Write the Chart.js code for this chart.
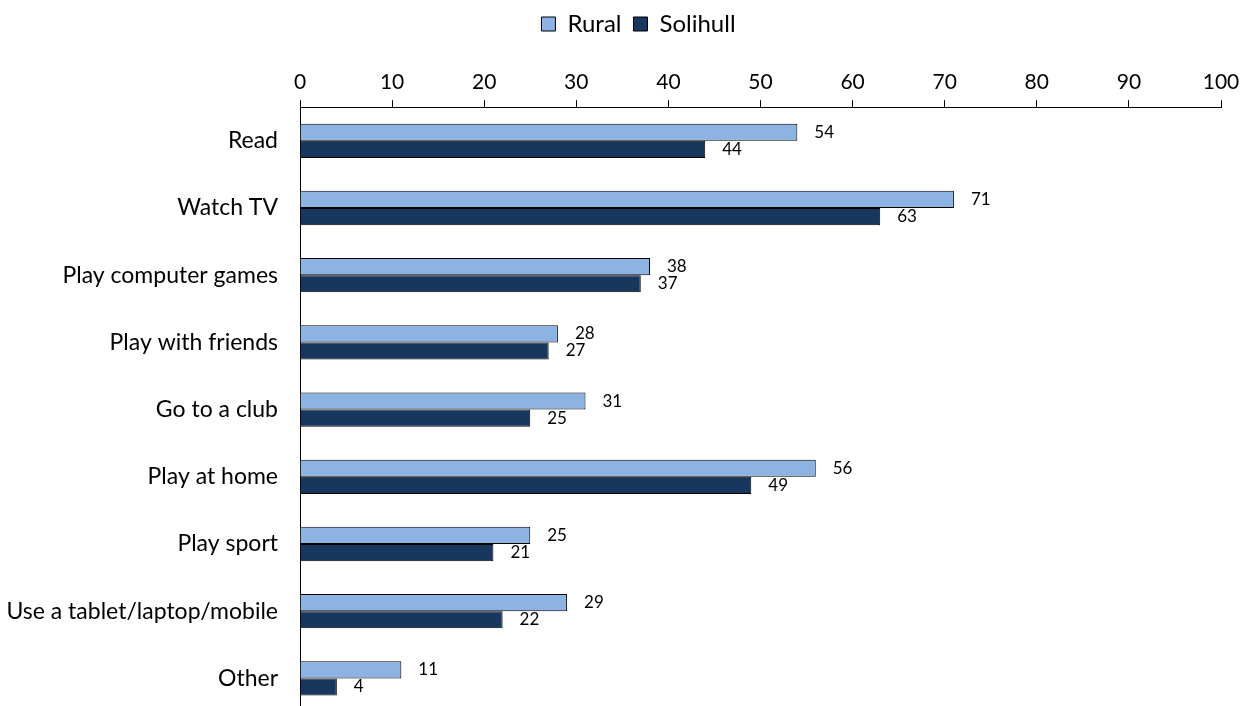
<!DOCTYPE html>
<html>
<head>
<meta charset="utf-8">
<script src="https://cdn.jsdelivr.net/npm/chart.js@4"></script>
<style>
  html, body { margin: 0; padding: 0; background: #fff; overflow: hidden; }
</style>
</head>
<body>
<canvas id="grafico" width="1245" height="712"></canvas>
<script>
// categorias y valores (%)
const categorias = ['Read', 'Watch TV', 'Play computer games', 'Play with friends', 'Go to a club',
  'Play at home', 'Play sport', 'Use a tablet/laptop/mobile', 'Other'];
const rural = [54, 71, 38, 28, 31, 56, 25, 29, 11];
const solihull = [44, 63, 37, 27, 25, 49, 21, 22, 4];

const fuente = 'Lato, "Open Sans", sans-serif';

// etiquetas de valor a la derecha de cada barra
const etiquetas = {
  id: 'etiquetas',
  afterLayout(chart) {
    // leyenda un poco desplazada a la derecha, como en el original
    chart.legend.left += 28;
    chart.legend.right += 28;
  },
  afterDatasetsDraw(chart) {
    const ctx = chart.ctx;
    ctx.save();
    ctx.font = '17px ' + fuente;
    ctx.fillStyle = '#000';
    ctx.textAlign = 'left';
    ctx.textBaseline = 'middle';
    chart.data.datasets.forEach((ds, i) => {
      chart.getDatasetMeta(i).data.forEach((bar, j) => {
        ctx.fillText(ds.data[j], bar.x + 17, bar.y);
      });
    });
    ctx.restore();
  }
};

new Chart(document.getElementById('grafico'), {
  type: 'bar',
  data: {
    labels: categorias,
    datasets: [
      { label: 'Rural', data: rural, backgroundColor: '#8DB3E2', borderColor: '#000', borderWidth: 1,
        categoryPercentage: 0.51, barPercentage: 1 },
      { label: 'Solihull', data: solihull, backgroundColor: '#17375E', borderColor: '#000', borderWidth: 1,
        categoryPercentage: 0.51, barPercentage: 1 }
    ]
  },
  options: {
    indexAxis: 'y',
    responsive: false,
    animation: false,
    layout: { padding: { top: 0, right: 24, left: 0, bottom: 0 } },
    plugins: {
      legend: {
        position: 'top',
        labels: {
          font: { family: fuente, size: 24 },
          color: '#000',
          boxWidth: 14,
          boxHeight: 14,
          padding: 12,
          useBorderRadius: false
        }
      },
      tooltip: { enabled: false }
    },
    scales: {
      x: {
        position: 'top',
        min: 0,
        max: 100,
        ticks: { stepSize: 10, font: { family: fuente, size: 21 }, color: '#000', padding: 5 },
        grid: { drawOnChartArea: false, drawTicks: true, tickLength: 7, color: '#000' },
        border: { display: true, color: '#000', width: 1 },
        afterFit: s => { s.height += 19; s.paddingLeft = 0; s.paddingRight = 0; }
      },
      y: {
        ticks: { font: { family: fuente, size: 23 }, color: '#000', padding: 22 },
        grid: { display: false, drawTicks: false },
        border: { display: true, color: '#000', width: 1 },
        afterFit: s => { s.width = 300; s.paddingTop = 0; s.paddingBottom = 0; }
      }
    }
  },
  plugins: [etiquetas]
});
</script>
</body>
</html>
